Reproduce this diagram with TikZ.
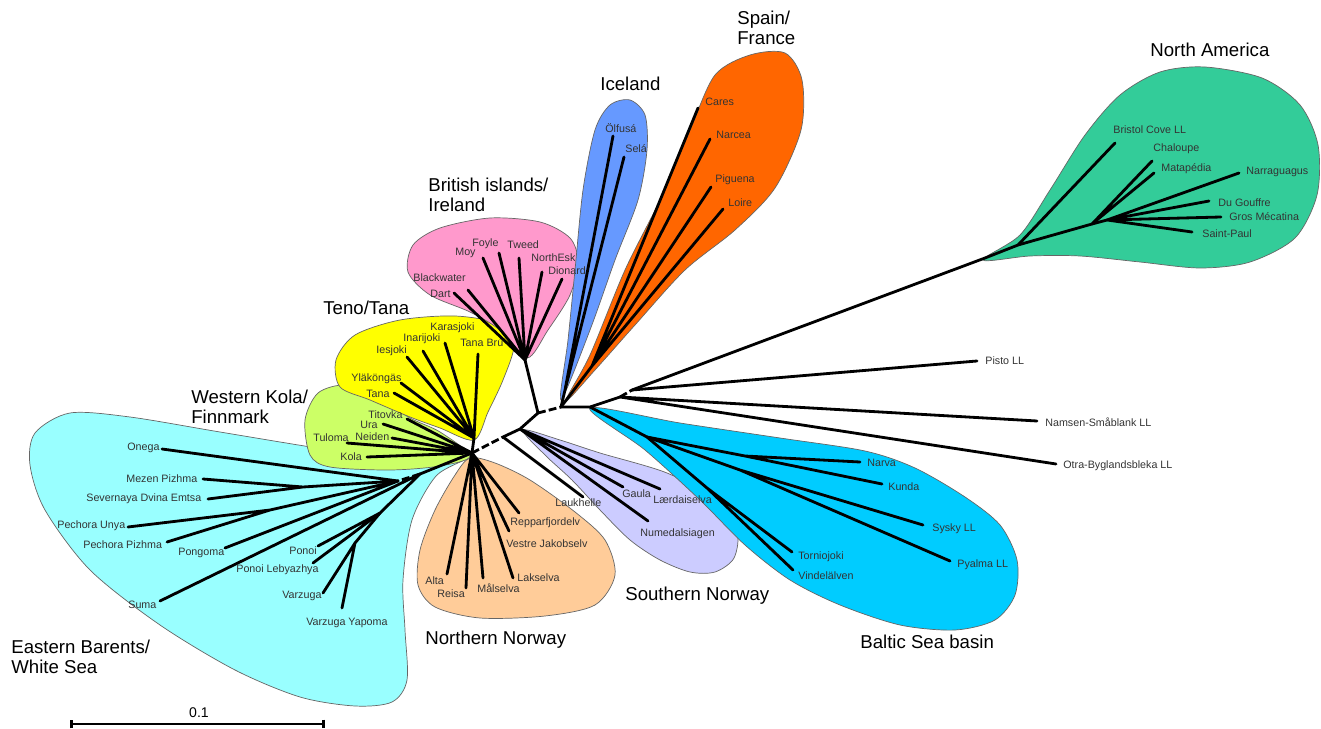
\documentclass[tikz,border=0pt]{standalone}
\usepackage{fontspec}
\setmainfont{Liberation Sans}
\usetikzlibrary{arrows.meta}
\definecolor{eastcol}{HTML}{99FFFF}
\definecolor{kolacol}{HTML}{CCFF66}
\definecolor{tenocol}{HTML}{FFFF00}
\definecolor{britcol}{HTML}{FF99CC}
\definecolor{icecol}{HTML}{6699FF}
\definecolor{spaincol}{HTML}{FF6600}
\definecolor{northcol}{HTML}{FFCC99}
\definecolor{southcol}{HTML}{CCCCFF}
\definecolor{balticcol}{HTML}{00CCFF}
\definecolor{americacol}{HTML}{33CC99}
\definecolor{labelcol}{HTML}{333333}
\begin{document}
\begin{tikzpicture}[x=0.02cm, y=-0.02cm,
    region/.style={draw=black!60, line width=0.4pt},
    branch/.style={line width=1.6pt, line cap=round},
    gap/.style={line width=1.6pt, dash pattern=on 4.5pt off 1.8pt},
    leaf/.style={anchor=west, inner sep=0pt, text=labelcol, font=\fontsize{6.1}{7}\selectfont},
    group/.style={anchor=west, inner sep=0pt, align=left, font=\fontsize{10.6}{11.7}\selectfont}]
    \useasboundingbox (0,0) rectangle (1321,729);

    % Coloured regions round the clades
    \draw[region, fill=eastcol] plot[smooth cycle] coordinates {(466,458) (420,462) (330,450) (220,432) (130,417) (70,413) (35,433) (30,465) (45,510) (90,570) (160,625) (235,670) (300,697) (355,706) (392,702) (407,680) (405,630) (403,580) (412,520) (436,476)};
    \draw[region, fill=kolacol] plot[smooth cycle] coordinates {(470,456) (440,432) (410,418) (375,396) (345,385) (318,393) (305,420) (310,455) (330,467) (390,470) (440,466)};
    \draw[region, fill=tenocol] plot[smooth cycle] coordinates {(474,440) (440,428) (410,417) (370,400) (340,387) (336,360) (355,335) (400,320) (455,316) (500,324) (514,345) (503,380) (488,412)};
    \draw[region, fill=britcol] plot[smooth cycle] coordinates {(527,358) (500,330) (470,312) (430,295) (408,272) (413,245) (440,228) (490,218) (540,222) (570,238) (578,262) (570,295) (548,330)};
    \draw[region, fill=icecol] plot[smooth cycle] coordinates {(561,400) (568,340) (575,270) (583,190) (595,130) (610,105) (630,100) (645,115) (647,150) (638,200) (615,260) (590,330)};
    \draw[region, fill=spaincol] plot[smooth cycle] coordinates {(565,402) (590,355) (625,270) (660,200) (690,130) (715,75) (750,55) (785,53) (802,80) (801,130) (775,188) (735,230) (685,270) (635,325) (595,370)};
    \draw[region, fill=northcol] plot[smooth cycle] coordinates {(470,458) (455,475) (435,510) (420,550) (418,585) (435,607) (480,618) (545,616) (595,605) (615,575) (605,540) (575,512) (530,480) (495,463)};
    \draw[region, fill=southcol] plot[smooth cycle] coordinates {(523,430) (560,440) (600,453) (667,473) (715,500) (737,530) (734,558) (715,572) (690,572) (660,560) (630,540) (600,510) (572,480) (545,455)};
    \draw[region, fill=balticcol] plot[smooth cycle] coordinates {(590,408) (680,423) (780,438) (865,451) (915,468) (965,497) (1000,525) (1017,560) (1015,595) (995,620) (955,630) (900,625) (840,605) (790,580) (745,545) (700,500) (645,450)};
    \draw[region, fill=americacol] plot[smooth cycle] coordinates {(983,260) (1020,235) (1050,190) (1085,135) (1120,95) (1160,72) (1205,67) (1262,78) (1300,105) (1318,145) (1317,195) (1295,238) (1250,262) (1200,268) (1140,262) (1080,256) (1030,256)};

    % Backbone of the tree
    \coordinate (hub) at (472,453);
    \coordinate (lauk) at (503,437);
    \coordinate (south) at (520,429);
    \coordinate (brit) at (538,413);
    \coordinate (isle) at (561,407);
    \coordinate (balt) at (590,407);
    \coordinate (otra) at (620,397);
    \coordinate (west) at (632,390);
    \draw[gap] (hub) -- (lauk);
    \draw[branch] (lauk) -- (south) -- (brit);
    \draw[gap] (brit) -- (isle);
    \draw[branch] (isle) -- (balt) -- (otra);
    \draw[gap] (otra) -- (west);

    % Eastern Barents / White Sea
    \coordinate (eb0) at (420,474);
    \coordinate (eb1) at (398,481);
    \coordinate (eb2) at (303,487);
    \coordinate (eb3) at (270,510);
    \coordinate (eb4) at (380,513);
    \coordinate (eb5) at (355,543);
    \coordinate (onega) at (162,449);
    \coordinate (mezen) at (203,479);
    \coordinate (dvina) at (208,499);
    \coordinate (unya) at (128,527);
    \coordinate (pizhma) at (167,542);
    \coordinate (pongoma) at (225,548);
    \coordinate (suma) at (160,601);
    \coordinate (ponoi) at (318,546);
    \coordinate (lebyazhya) at (313,563);
    \coordinate (varzuga) at (323,593);
    \coordinate (yapoma) at (342,608);
    \draw[branch] (hub) -- (eb0);
    \draw[gap] (eb0) -- (eb1);
    \draw[branch] (eb1) -- (onega) (eb1) -- (eb2) -- (mezen) (eb2) -- (dvina);
    \draw[branch] (eb1) -- (eb3) -- (unya) (eb3) -- (pizhma) (eb1) -- (pongoma);
    \draw[branch] (eb0) -- (suma) (eb0) -- (eb4) -- (ponoi) (eb4) -- (lebyazhya);
    \draw[branch] (eb4) -- (eb5) -- (varzuga) (eb5) -- (yapoma);
    \node[leaf] (onega-t) at (127,448) {Onega};
    \node[leaf] (mezen-t) at (126,479) {Mezen Pizhma};
    \node[leaf] (dvina-t) at (86,499) {Severnaya Dvina Emtsa};
    \node[leaf] (unya-t) at (57,526) {Pechora Unya};
    \node[leaf] (pizhma-t) at (83,545) {Pechora Pizhma};
    \node[leaf] (pongoma-t) at (178,553) {Pongoma};
    \node[leaf] (suma-t) at (128,605) {Suma};
    \node[leaf] (ponoi-t) at (289,551) {Ponoi};
    \node[leaf] (lebyazhya-t) at (236,570) {Ponoi Lebyazhya};
    \node[leaf] (varzuga-t) at (282,596) {Varzuga};
    \node[leaf] (yapoma-t) at (306,623) {Varzuga Yapoma};

    % Western Kola / Finnmark
    \coordinate (titovka) at (407,419);
    \coordinate (ura) at (383,424);
    \coordinate (neiden) at (392,438);
    \coordinate (tuloma) at (347,443);
    \coordinate (kola) at (367,457);
    \draw[branch] (hub) -- (titovka) (hub) -- (ura) (hub) -- (neiden) (hub) -- (tuloma) (hub) -- (kola);
    \node[leaf] (titovka-t) at (368,415) {Titovka};
    \node[leaf] (ura-t) at (360,425) {Ura};
    \node[leaf] (neiden-t) at (355,437) {Neiden};
    \node[leaf] (tuloma-t) at (313,438) {Tuloma};
    \node[leaf] (kola-t) at (340,457) {Kola};

    % Teno / Tana
    \coordinate (teno) at (474,438);
    \coordinate (karasjoki) at (445,343);
    \coordinate (inarijoki) at (423,351);
    \coordinate (iesjoki) at (407,357);
    \coordinate (tanabru) at (478,354);
    \coordinate (ylakongas) at (401,383);
    \coordinate (tana) at (394,393);
    \draw[branch] (hub) -- (teno);
    \draw[branch] (teno) -- (karasjoki) (teno) -- (inarijoki) (teno) -- (iesjoki) (teno) -- (tanabru) (teno) -- (ylakongas) (teno) -- (tana);
    \node[leaf] (karasjoki-t) at (430,328) {Karasjoki};
    \node[leaf] (inarijoki-t) at (403,339) {Inarijoki};
    \node[leaf] (iesjoki-t) at (376,351) {Iesjoki};
    \node[leaf] (tanabru-t) at (460,343) {Tana Brú};
    \node[leaf] (ylakongas-t) at (351,379) {Yläköngäs};
    \node[leaf] (tana-t) at (366,394) {Tana};

    % British islands / Ireland
    \coordinate (bi) at (525,360);
    \coordinate (moy) at (483,258);
    \coordinate (foyle) at (499,253);
    \coordinate (tweed) at (519,258);
    \coordinate (northesk) at (542,272);
    \coordinate (dionard) at (562,279);
    \coordinate (blackwater) at (468,290);
    \coordinate (dart) at (454,293);
    \draw[branch] (brit) -- (bi);
    \draw[branch] (bi) -- (moy) (bi) -- (foyle) (bi) -- (tweed) (bi) -- (northesk) (bi) -- (dionard) (bi) -- (blackwater) (bi) -- (dart);
    \node[leaf] (moy-t) at (455,253) {Moy};
    \node[leaf] (foyle-t) at (472,244) {Foyle};
    \node[leaf] (tweed-t) at (507,245) {Tweed};
    \node[leaf] (northesk-t) at (531,258) {NorthEsk};
    \node[leaf] (dionard-t) at (548,271) {Dionard};
    \node[leaf] (blackwater-t) at (413,278) {Blackwater};
    \node[leaf] (dart-t) at (430,294) {Dart};

    % Iceland and Spain / France
    \coordinate (ice) at (565,390);
    \coordinate (spa) at (592,366);
    \coordinate (olfusa) at (613,136);
    \coordinate (sela) at (624,157);
    \coordinate (cares) at (698,108);
    \coordinate (narcea) at (710,139);
    \coordinate (piguena) at (711,187);
    \coordinate (loire) at (723,209);
    \draw[branch] (isle) -- (ice) -- (olfusa) (ice) -- (sela);
    \draw[branch] (isle) -- (spa) -- (cares) (spa) -- (narcea) (spa) -- (piguena) (spa) -- (loire);
    \node[leaf] (olfusa-t) at (605,128) {Ölfusá};
    \node[leaf] (sela-t) at (625,149) {Selá};
    \node[leaf] (cares-t) at (705,102) {Cares};
    \node[leaf] (narcea-t) at (716,135) {Narcea};
    \node[leaf] (piguena-t) at (715,180) {Piguena};
    \node[leaf] (loire-t) at (728,203) {Loire};

    % Northern Norway
    \coordinate (reppar) at (519,513);
    \coordinate (vestre) at (509,531);
    \coordinate (lakselva) at (513,578);
    \coordinate (malselva) at (483,578);
    \coordinate (reisa) at (466,588);
    \coordinate (alta) at (447,574);
    \draw[branch] (hub) -- (reppar) (hub) -- (vestre) (hub) -- (lakselva) (hub) -- (malselva) (hub) -- (reisa) (hub) -- (alta);
    \node[leaf] (reppar-t) at (510,523) {Repparfjordelv};
    \node[leaf] (vestre-t) at (506,544) {Vestre Jakobselv};
    \node[leaf] (lakselva-t) at (517,578) {Lakselva};
    \node[leaf] (malselva-t) at (477,588) {Målselva};
    \node[leaf] (reisa-t) at (437,594) {Reisa};
    \node[leaf] (alta-t) at (425,581) {Alta};

    % Southern Norway
    \coordinate (gaula) at (623,487);
    \coordinate (laerdal) at (660,489);
    \coordinate (numedal) at (648,521);
    \coordinate (laukhelle) at (583,497);
    \draw[branch] (south) -- (gaula) (south) -- (laerdal) (south) -- (numedal) (lauk) -- (laukhelle);
    \node[leaf] (gaula-t) at (622,494) {Gaula};
    \node[leaf] (laerdal-t) at (653,500) {Lærdaiselva};
    \node[leaf] (numedal-t) at (640,534) {Numedalsiagen};
    \node[leaf] (laukhelle-t) at (555,503) {Laukhelle};

    % Baltic Sea basin
    \coordinate (bt0) at (647,437);
    \coordinate (bt1) at (745,456);
    \coordinate (bt2) at (740,470);
    \coordinate (bt3) at (707,488);
    \coordinate (narva) at (860,462);
    \coordinate (kunda) at (882,484);
    \coordinate (sysky) at (923,525);
    \coordinate (pyalma) at (950,561);
    \coordinate (tornio) at (792,552);
    \coordinate (vindel) at (793,570);
    \draw[branch] (balt) -- (bt0);
    \draw[branch] (bt0) -- (bt1) -- (narva) (bt1) -- (kunda) (bt0) -- (bt2) -- (sysky) (bt2) -- (pyalma);
    \draw[branch] (bt0) -- (bt3) -- (tornio) (bt3) -- (vindel);
    \node[leaf] (narva-t) at (867,463) {Narva};
    \node[leaf] (kunda-t) at (888,487) {Kunda};
    \node[leaf] (sysky-t) at (932,529) {Sysky LL};
    \node[leaf] (pyalma-t) at (957,565) {Pyalma LL};
    \node[leaf] (tornio-t) at (798,557) {Torniojoki};
    \node[leaf] (vindel-t) at (798,576) {Vindelälven};

    % Landlocked branches and North America
    \coordinate (pisto) at (977,361);
    \coordinate (namsen) at (1037,421);
    \coordinate (bygland) at (1056,464);
    \draw[branch] (west) -- (pisto) (otra) -- (namsen) (otra) -- (bygland);
    \node[leaf] (pisto-t) at (985,361) {Pisto LL};
    \node[leaf] (namsen-t) at (1045,422) {Namsen-Småblank LL};
    \node[leaf] (bygland-t) at (1063,466) {Otra-Byglandsbleka LL};
    \coordinate (na0) at (985,258);
    \coordinate (na1) at (1018,245);
    \coordinate (na2) at (1092,224);
    \coordinate (na3) at (1107,220);
    \coordinate (bristol) at (1115,143);
    \coordinate (chaloupe) at (1152,161);
    \coordinate (matapedia) at (1154,173);
    \coordinate (narraguagus) at (1239,173);
    \coordinate (gouffre) at (1209,201);
    \coordinate (mecatina) at (1221,217);
    \coordinate (saintpaul) at (1192,232);
    \draw[branch] (west) -- (na0) -- (na1) -- (na2) -- (na3);
    \draw[branch] (na1) -- (bristol) (na2) -- (chaloupe) (na2) -- (matapedia);
    \draw[branch] (na3) -- (narraguagus) (na3) -- (gouffre) (na3) -- (mecatina) (na3) -- (saintpaul);
    \node[leaf] (bristol-t) at (1113,130) {Bristol Cove LL};
    \node[leaf] (chaloupe-t) at (1153,149) {Chaloupe};
    \node[leaf] (matapedia-t) at (1161,169) {Matapédia};
    \node[leaf] (narraguagus-t) at (1246,172) {Narraguagus};
    \node[leaf] (gouffre-t) at (1218,203) {Du Gouffre};
    \node[leaf] (mecatina-t) at (1229,217) {Gros Mécatina};
    \node[leaf] (saintpaul-t) at (1202,234) {Saint-Paul};

    % Region names
    \node[group] (spain-g) at (737,28) {Spain/\\France};
    \node[group] (iceland-g) at (600,84) {Iceland};
    \node[group] (america-g) at (1150,50) {North America};
    \node[group] (british-g) at (428,195) {British islands/\\Ireland};
    \node[group] (teno-g) at (323,308) {Teno/Tana};
    \node[group] (kola-g) at (191,407) {Western Kola/\\Finnmark};
    \node[group] (east-g) at (11,657) {Eastern Barents/\\White Sea};
    \node[group] (north-g) at (425,640) {Northern Norway};
    \node[group] (south-g) at (625,596) {Southern Norway};
    \node[group] (baltic-g) at (860,642) {Baltic Sea basin};

    % Scale bar
    \coordinate (bar-l) at (70,724);
    \coordinate (bar-r) at (325,724);
    \draw[line width=1.3pt, {Bar[width=5pt, line width=1.8pt]}-{Bar[width=5pt, line width=1.8pt]}] (bar-l) -- (bar-r);
    \node[inner sep=0pt, font=\fontsize{8}{9}\selectfont] (bar-t) at (199,713) {0.1};
\end{tikzpicture}
\end{document}
